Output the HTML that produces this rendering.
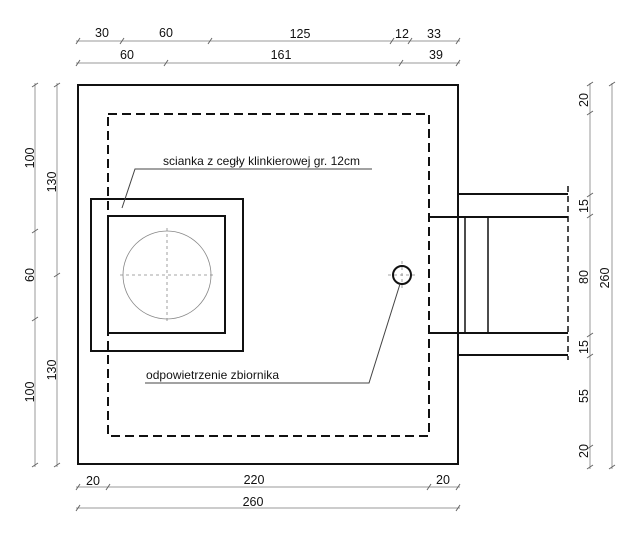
<!DOCTYPE html>
<html><head><meta charset="utf-8"><style>html,body{margin:0;padding:0;background:#fff}svg{display:block}</style></head>
<body>
<svg width="639" height="541" viewBox="0 0 639 541" xmlns="http://www.w3.org/2000/svg" font-family="Liberation Sans, Arial, sans-serif" font-size="12.5" fill="#111">
<g stroke="#999" stroke-width="1" fill="none">
<line x1="76" y1="41" x2="460" y2="41"/>
<line x1="76" y1="63" x2="460" y2="63"/>
<line x1="76" y1="487" x2="460" y2="487"/>
<line x1="76" y1="508" x2="460" y2="508"/>
<line x1="35" y1="83" x2="35" y2="467"/>
<line x1="57" y1="83" x2="57" y2="467"/>
<line x1="590" y1="83" x2="590" y2="469"/>
<line x1="612" y1="83" x2="612" y2="469"/>
</g>
<g stroke="#666" stroke-width="1">
<path d="M76,44 l4,-6 M120,44 l4,-6 M208,44 l4,-6 M390,44 l4,-6 M408,44 l4,-6 M456,44 l4,-6
M76,66 l4,-6 M164,66 l4,-6 M399,66 l4,-6 M456,66 l4,-6
M76,490 l4,-6 M106,490 l4,-6 M427,490 l4,-6 M456,490 l4,-6
M76,511 l4,-6 M456,511 l4,-6
M32,87 l6,-4 M32,233 l6,-4 M32,321 l6,-4 M32,467 l6,-4
M54,87 l6,-4 M54,277 l6,-4 M54,467 l6,-4
M587,86 l6,-4 M587,115 l6,-4 M587,197 l6,-4 M587,218 l6,-4 M587,337 l6,-4 M587,358 l6,-4 M587,449 l6,-4 M587,469 l6,-4
M609,86 l6,-4 M609,469 l6,-4"/>
</g>
<g text-anchor="middle">
<text x="102" y="37">30</text><text x="166" y="37">60</text><text x="300" y="38">125</text><text x="402" y="38">12</text><text x="434" y="38">33</text>
<text x="127" y="59">60</text><text x="281" y="59">161</text><text x="436" y="59">39</text>
<text x="93" y="485">20</text><text x="254" y="484">220</text><text x="443" y="484">20</text>
<text x="253" y="506">260</text>
<text transform="translate(34,158) rotate(-90)">100</text>
<text transform="translate(34,275) rotate(-90)">60</text>
<text transform="translate(34,392) rotate(-90)">100</text>
<text transform="translate(56,182) rotate(-90)">130</text>
<text transform="translate(56,370) rotate(-90)">130</text>
<text transform="translate(588,100) rotate(-90)">20</text>
<text transform="translate(588,206) rotate(-90)">15</text>
<text transform="translate(588,277) rotate(-90)">80</text>
<text transform="translate(588,347) rotate(-90)">15</text>
<text transform="translate(588,396) rotate(-90)">55</text>
<text transform="translate(588,451) rotate(-90)">20</text>
<text transform="translate(609,278) rotate(-90)">260</text>
</g>
<g fill="none" stroke="#111">
<rect x="78" y="85" width="380" height="379" stroke-width="2"/>
<rect x="108" y="114" width="321" height="322" stroke-width="2" stroke-dasharray="9,5"/>
<rect x="91" y="199" width="152" height="152" stroke-width="2"/>
<rect x="108" y="216" width="117" height="117" stroke-width="2"/>
<path d="M458,194 H568 M429,217 H568 M429,333 H568 M458,355 H568" stroke-width="2"/>
<path d="M465,217 V333 M488,217 V333" stroke-width="1.5"/>
<line x1="568" y1="186" x2="568" y2="360" stroke-width="1.5" stroke-dasharray="6,4"/>
<circle cx="402" cy="275" r="9" stroke-width="2"/>
</g>
<g fill="none" stroke="#888" stroke-width="0.8">
<circle cx="167" cy="275" r="44"/>
<path d="M120,275 H214 M167,228 V322" stroke-dasharray="3,3"/>
<path d="M388,275 H416 M402,261 V289" stroke-dasharray="3,3"/>
</g>
<g fill="none" stroke="#444" stroke-width="1">
<path d="M122,208 L135,169 H372"/>
<path d="M400,284 L369,383 H145"/>
</g>
<text x="163" y="165" font-size="12" textLength="197">scianka z cegły klinkierowej gr. 12cm</text>
<text x="146" y="379" font-size="12" textLength="133">odpowietrzenie zbiornika</text>
</svg>
</body></html>
